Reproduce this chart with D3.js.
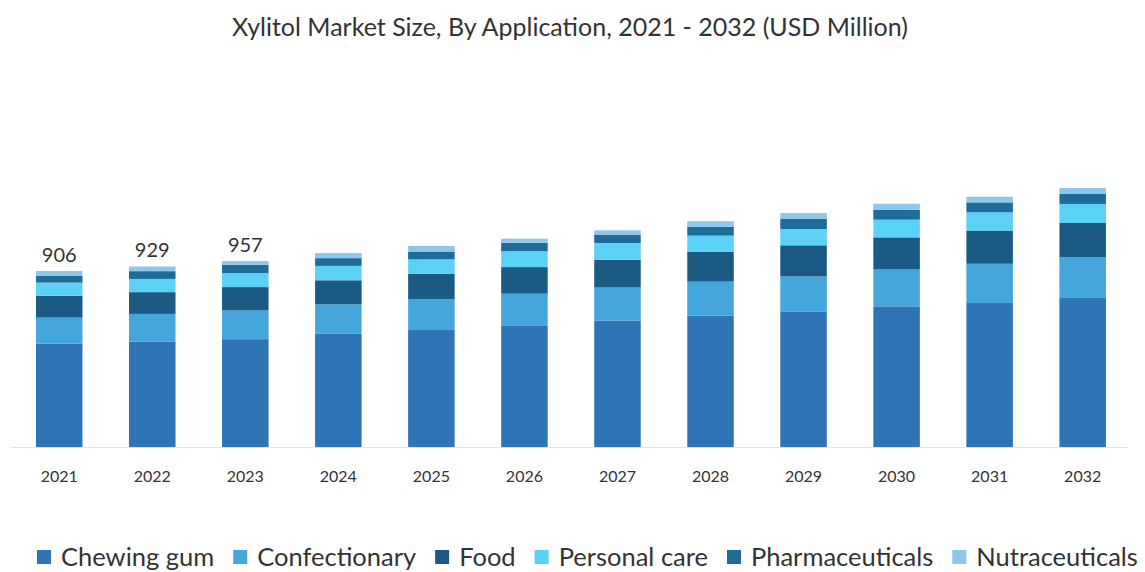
<!DOCTYPE html>
<html>
<head>
<meta charset="utf-8">
<script src="https://cdn.jsdelivr.net/npm/d3@7"></script>
<style>
  html, body { margin: 0; padding: 0; background: #fff; }
  svg { display: block; font-family: Lato, "Noto Sans", sans-serif; }
</style>
</head>
<body>
<svg id="chart" width="1145" height="572"></svg>
<script>
// Xylitol market size by application, USD million
const years = ["2021","2022","2023","2024","2025","2026","2027","2028","2029","2030","2031","2032"];
const seriesNames = ["Chewing gum","Confectionary","Food","Personal care","Pharmaceuticals","Nutraceuticals"];
const chewingGum      = [532, 543, 555, 583, 602, 623, 650, 676, 698, 724, 741, 767];
const confectionary   = [134, 142, 148, 151, 158, 166, 171, 175, 180, 192, 202, 209];
const food            = [112, 112, 120, 124, 132, 137, 143, 153, 160, 163, 171, 177];
const personalCare    = [ 68,  68,  72,  74,  74,  82,  86,  84,  84,  91,  94,  98];
const pharmaceuticals = [ 34,  40,  43,  40,  40,  43,  43,  45,  53,  51,  51,  51];
const nutraceuticals  = [ 26,  24,  19,  26,  29,  21,  22,  29,  29,  31,  29,  31];
const labelledTotals  = { "2021": 906, "2022": 929, "2023": 957 };
const colors = ["#2f74b5", "#45a6dc", "#1b5a82", "#5bd2f5", "#1f6b99", "#8ec7ea"];

const seriesValues = [chewingGum, confectionary, food, personalCare, pharmaceuticals, nutraceuticals];
const rows = years.map((y, i) => {
  const r = { year: y };
  seriesNames.forEach((s, k) => { r[s] = seriesValues[k][i]; });
  return r;
});

const svg = d3.select("#chart");
const baseY = 447;

const x = d3.scaleBand()
  .domain(years)
  .range([12.7, 1129.2])
  .paddingInner(0.5)
  .paddingOuter(0.25);

const y = d3.scaleLinear()
  .domain([0, 1000])
  .range([baseY, baseY - 194.3]);

const layers = d3.stack().keys(seriesNames)(rows);

// Title
svg.append("text")
  .attr("x", 570)
  .attr("y", 36)
  .attr("text-anchor", "middle")
  .attr("font-size", 25)
  .attr("fill", "#333")
  .text("Xylitol Market Size, By Application, 2021 - 2032 (USD Million)");

// Stacked bars
svg.append("g")
  .selectAll("g")
  .data(layers)
  .join("g")
  .attr("fill", (d, i) => colors[i])
  .selectAll("rect")
  .data(d => d)
  .join("rect")
  .attr("x", d => x(d.data.year))
  .attr("width", x.bandwidth())
  .attr("y", d => y(d[1]))
  .attr("height", d => y(d[0]) - y(d[1]));

// Baseline
svg.append("line")
  .attr("x1", 11).attr("x2", 1128)
  .attr("y1", baseY + 0.5).attr("y2", baseY + 0.5)
  .attr("stroke", "#e3e3e3")
  .attr("stroke-width", 1);

// Year axis
const xAxis = svg.append("g")
  .attr("transform", `translate(0,${baseY})`)
  .call(d3.axisBottom(x).tickSize(0).tickPadding(24));
xAxis.select(".domain").remove();
xAxis.selectAll("text")
  .attr("font-size", 16)
  .attr("font-family", "Lato, 'Noto Sans', sans-serif")
  .attr("fill", "#333");

// Total labels for the first years
svg.append("g")
  .selectAll("text")
  .data(rows.filter(r => labelledTotals[r.year] !== undefined))
  .join("text")
  .attr("x", d => x(d.year) + x.bandwidth() / 2)
  .attr("y", d => y(labelledTotals[d.year]) - 9)
  .attr("text-anchor", "middle")
  .attr("font-size", 20)
  .attr("fill", "#333")
  .text(d => labelledTotals[d.year]);

// Legend
const legend = svg.append("g").attr("transform", "translate(37,557)");
let lx = 0;
seriesNames.forEach((s, i) => {
  const g = legend.append("g").attr("transform", `translate(${lx},0)`);
  g.append("rect")
    .attr("x", 0).attr("y", -7)
    .attr("width", 14).attr("height", 14)
    .attr("fill", colors[i]);
  const t = g.append("text")
    .attr("x", 24)
    .attr("y", 9)
    .attr("font-size", 25.5)
    .attr("fill", "#333")
    .text(s);
  lx += 24 + t.node().getComputedTextLength() + 19;
});
</script>
</body>
</html>
